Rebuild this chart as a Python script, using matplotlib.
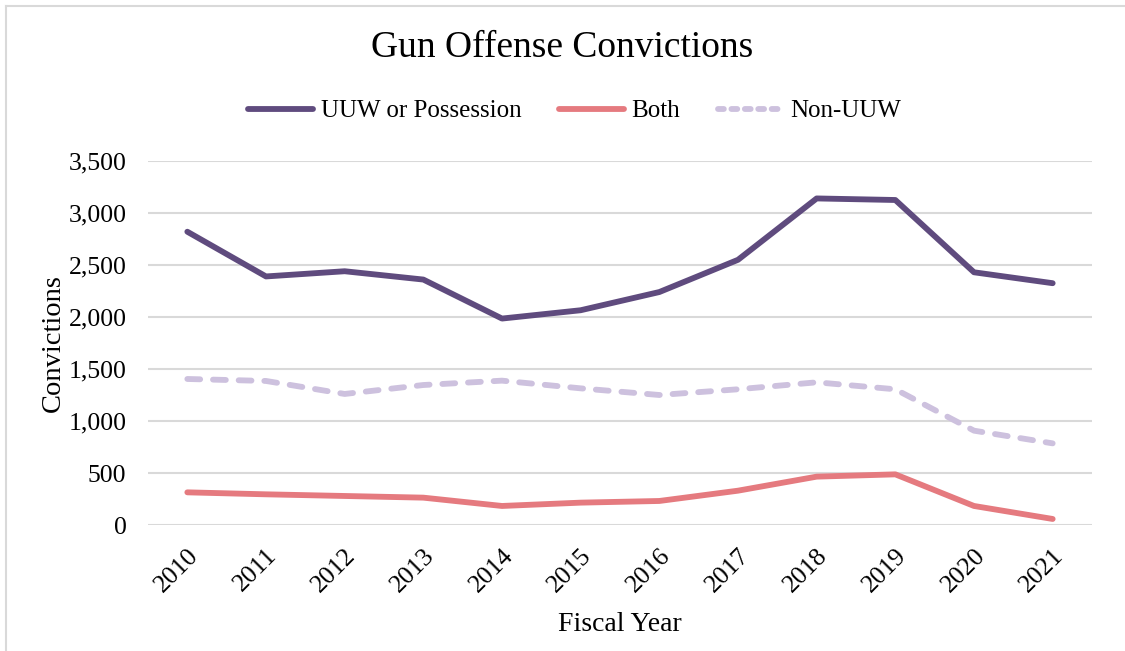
import matplotlib

matplotlib.use("Agg")
import matplotlib.pyplot as plt
from matplotlib.lines import Line2D
from matplotlib.ticker import FuncFormatter

# Gun offense convictions by fiscal year
years = ["2010", "2011", "2012", "2013", "2014", "2015",
         "2016", "2017", "2018", "2019", "2020", "2021"]
uuw_possession = [2820, 2390, 2440, 2360, 1985, 2065, 2240, 2550, 3140, 3125, 2430, 2325]
both = [314, 295, 279, 263, 183, 215, 231, 330, 465, 487, 183, 58]
non_uuw = [1404, 1385, 1260, 1346, 1388, 1314, 1250, 1305, 1372, 1305, 907, 785]

PURPLE = "#5F4B7E"
PINK = "#E57A7F"
LAVENDER = "#CDC1DE"
GRID = "#D9D9D9"
LW = 4.2

plt.rcParams["font.family"] = ["Liberation Serif", "DejaVu Serif"]

fig = plt.figure(figsize=(11.25, 6.51), dpi=100)
ax = fig.add_axes([148 / 1125, 1 - 525 / 651, (1092 - 148) / 1125, (525 - 161) / 651])

x = list(range(len(years)))
ax.plot(x, uuw_possession, color=PURPLE, linewidth=LW, solid_capstyle="round",
        solid_joinstyle="round", zorder=3)
ax.plot(x, both, color=PINK, linewidth=LW, solid_capstyle="round",
        solid_joinstyle="round", zorder=3)
ax.plot(x, non_uuw, color=LAVENDER, linewidth=LW, dashes=(2.2, 2.2),
        dash_capstyle="round", zorder=3)

ax.set_xlim(-0.5, len(years) - 0.5)
ax.set_ylim(0, 3500)
ax.set_yticks(range(0, 3501, 500))
ax.yaxis.set_major_formatter(FuncFormatter(lambda v, _: f"{int(v):,}"))
ax.set_xticks(x)
ax.set_xticklabels(years, rotation=45, ha="right", rotation_mode="anchor")

ax.grid(axis="y", color=GRID, linewidth=1.5)
ax.set_axisbelow(True)
for s in ax.spines.values():
    s.set_visible(False)
ax.tick_params(axis="both", length=0, labelsize=18.5, colors="black")
ax.tick_params(axis="y", pad=15.5)
ax.tick_params(axis="x", pad=14)

ax.set_ylabel("Convictions", fontsize=20.5, labelpad=2)
ax.set_xlabel("Fiscal Year", fontsize=20, labelpad=11)

fig.text(0.5, 1 - 48 / 651, "Gun Offense Convictions", ha="center", va="center", fontsize=27)

handles = [
    Line2D([], [], color=PURPLE, linewidth=LW, solid_capstyle="round"),
    Line2D([], [], color=PINK, linewidth=LW, solid_capstyle="round"),
    Line2D([], [], color=LAVENDER, linewidth=LW, dashes=(1.0, 1.3), dash_capstyle="round"),
]
fig.legend(handles, ["UUW or Possession", "Both", "Non-UUW"], loc="center",
           bbox_to_anchor=(574.5 / 1125, 1 - 111 / 651), ncol=3, frameon=False, fontsize=18,
           handlelength=2.6, handletextpad=0.3, columnspacing=1.5)

# light frame along top and left edge
fig.add_artist(Line2D([5.5 / 1125, 1], [1 - 5.5 / 651, 1 - 5.5 / 651], color=GRID,
                      linewidth=1.5, transform=fig.transFigure))
fig.add_artist(Line2D([5.5 / 1125, 5.5 / 1125], [0, 1 - 5.5 / 651], color=GRID,
                      linewidth=1.5, transform=fig.transFigure))

fig.savefig("out.png", dpi=100)
